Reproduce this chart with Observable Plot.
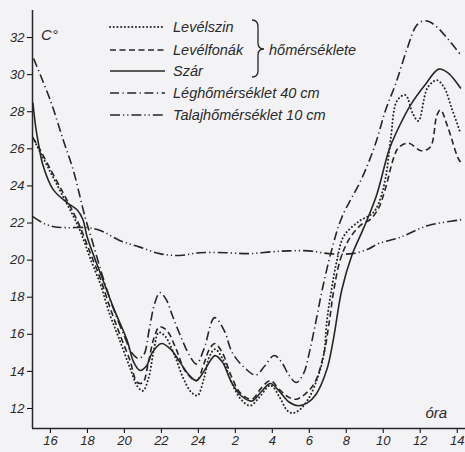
<!DOCTYPE html>
<html>
<head>
<meta charset="utf-8">
<script src="https://cdn.jsdelivr.net/npm/d3@7"></script>
<script src="https://cdn.jsdelivr.net/npm/@observablehq/plot@0.6"></script>
<style>
  html, body { margin: 0; padding: 0; background: #f3f2f5; }
  #chart svg { display: block; background: #f3f2f5; }
  #chart svg text { font-family: "Liberation Sans", "DejaVu Sans", sans-serif; font-style: italic; fill: #2a2a2a; }
</style>
</head>
<body>
<div id="chart"></div>
<script>
// hours: 15..24 evening, >24 = next day (26 = 2 óra)
const xTicks = [16, 18, 20, 22, 24, 26, 28, 30, 32, 34, 36, 38];
const xTickLabels = ["16", "18", "20", "22", "24", "2", "4", "6", "8", "10", "12", "14"];
const yTicks = [12, 14, 16, 18, 20, 22, 24, 26, 28, 30, 32];

const seriesNames = ["Levélszin", "Levélfonák", "Szár", "Léghőmérséklet 40 cm", "Talajhőmérséklet 10 cm"];

const levelszinT = [15.05,15.3,16.0,16.7,17.25,17.6,18.15,18.7,19.2,19.75,20.3,20.7,21.0,21.3,21.6,21.85,22.2,22.7,23.2,23.6,23.95,24.3,24.6,24.9,25.3,25.8,26.3,26.8,27.3,27.9,28.4,28.8,29.1,29.5,30.0,30.5,30.8,30.95,31.2,31.5,31.87,32.7,33.4,33.75,34.13,34.4,34.75,35.2,35.6,35.9,36.4,36.9,37.3,37.7,38.16];
const levelszinV = [26.6,26.1,24.75,23.4,22.35,21.6,20.1,18.7,17.1,15.67,14.2,13.2,12.95,13.6,15.2,16.1,15.9,14.9,13.6,12.9,12.7,13.6,14.8,15.2,14.7,13.4,12.5,12.15,12.6,13.25,12.6,11.9,11.75,11.95,12.6,13.8,15.0,16.7,18.4,20.0,21.3,22.1,22.5,23.05,24.45,26.5,28.6,28.9,27.9,27.5,29.3,29.7,29.3,28.2,26.9];

const levelfonakT = [15.05,15.3,16.0,16.7,17.25,17.6,18.15,18.7,19.2,19.75,20.3,20.7,21.0,21.3,21.6,21.9,22.3,22.8,23.3,23.9,24.3,24.6,24.9,25.3,25.8,26.3,26.9,27.4,27.9,28.4,28.9,29.3,29.8,30.3,30.8,31.1,31.33,31.7,32.2,32.8,33.3,33.75,34.13,34.56,34.83,35.37,36.06,36.55,36.9,37.1,37.5,38.05,38.25];
const levelfonakV = [26.6,26.2,24.9,23.6,22.55,21.8,20.4,19.0,17.5,16.0,14.6,13.4,13.4,14.5,15.8,16.4,16.2,15.2,14.0,13.5,14.4,15.2,15.5,15.0,13.7,12.8,12.5,13.1,13.5,13.0,12.6,12.5,12.8,13.4,15.0,16.8,18.4,20.1,21.2,21.9,22.2,22.8,23.9,25.5,26.07,26.3,25.9,26.1,27.8,28.1,27.15,25.5,25.2];

const szarT = [15.05,15.2,15.35,15.6,16.15,16.9,17.45,17.75,18.0,18.7,19.4,20.15,20.5,20.85,21.2,21.5,22.0,22.5,23.0,23.5,23.9,24.3,24.9,25.3,25.8,26.3,26.9,27.4,27.9,28.4,28.9,29.4,29.9,30.36,30.95,31.3,31.76,32.3,32.95,33.64,34.3,34.67,35.5,36.3,37.0,37.5,38.2];
const szarV = [28.5,27.2,26.3,25.1,23.8,23.1,22.7,22.2,21.2,19.3,17.45,15.67,14.5,14.05,14.3,15.0,15.5,15.2,14.5,13.8,13.5,14.0,14.85,14.5,13.4,12.7,12.4,12.9,13.35,12.9,12.35,12.15,12.3,12.75,14.1,15.7,18.4,20.25,21.75,23.5,25.9,26.8,28.4,29.5,30.3,30.1,29.25];

const levegoT = [15.09,16.0,16.7,17.24,17.88,18.3,18.8,19.4,20.0,20.4,20.75,21.05,21.35,21.65,21.92,22.25,22.6,23.0,23.5,23.9,24.3,24.88,25.4,25.84,26.5,27.1,27.6,28.1,28.5,28.9,29.3,29.7,30.0,30.36,30.7,31.2,31.76,32.84,33.59,34.13,34.67,35.26,35.8,36.17,36.5,36.98,37.6,38.16];
const levegoV = [30.87,28.6,26.45,24.83,22.3,20.9,19.2,17.4,15.9,15.0,14.7,14.9,16.3,17.7,18.25,17.9,17.0,16.0,14.9,14.4,15.2,16.9,16.2,15.0,14.2,13.8,14.3,14.86,14.5,13.8,13.4,13.9,15.0,16.7,18.4,20.5,22.3,24.4,26.3,28.1,29.5,31.3,32.65,32.9,32.85,32.5,31.8,31.1];

const talajT = [15.05,15.7,16.2,16.9,18.0,18.7,19.77,20.84,21.9,23.0,24.07,25.5,26.76,28.0,28.9,29.99,31.06,32.3,33.2,33.75,34.83,36.44,38.05,38.3];
const talajV = [22.35,21.95,21.8,21.75,21.75,21.6,21.05,20.7,20.35,20.25,20.4,20.4,20.35,20.45,20.5,20.5,20.35,20.35,20.6,20.9,21.2,21.87,22.15,22.2];

const dashes = ["0.1,3.6", "6,3.5", null, "9,3.5,1.2,3.5", "10,3,1.2,3,1.2,3"];
const rows = (ts, vs, s) => ts.map((t, i) => ({t, v: vs[i], s}));
const data = [
  rows(levelszinT, levelszinV, 0),
  rows(levelfonakT, levelfonakV, 1),
  rows(szarT, szarV, 2),
  rows(levegoT, levegoV, 3),
  rows(talajT, talajV, 4)
];

const X0 = 15.03, X1 = 38.45, Y0 = 10.92, Y1 = 33.46;
const ink = "#262626";

const lineMarks = data.map((d, i) => Plot.line(d, {
  x: "t", y: "v", curve: "catmull-rom", stroke: ink,
  strokeWidth: i === 0 ? 2 : 1.6,
  strokeDasharray: dashes[i],
  strokeLinecap: i === 0 ? "round" : "butt"
}));

const chart = Plot.plot({
  width: 465, height: 452,
  marginLeft: 32, marginRight: 0, marginTop: 10, marginBottom: 24,
  style: {background: "#f3f2f5", fontSize: "13px"},
  x: {domain: [X0, X1], ticks: xTicks, tickFormat: d => xTickLabels[xTicks.indexOf(d)], tickSize: 5, tickPadding: 2, label: null},
  y: {domain: [Y0, Y1], ticks: yTicks, tickSize: 5, tickPadding: 3, label: null},
  marks: [
    Plot.ruleX([X0], {stroke: ink, strokeWidth: 1.5}),
    Plot.ruleY([Y0], {stroke: ink, strokeWidth: 1.5}),
    ...lineMarks,
    Plot.text(["C°"], {x: 15.95, y: 32.15, fontSize: 15, fill: ink}),
    Plot.text(["óra"], {x: 36.87, y: 11.75, fontSize: 15, fill: ink})
  ]
});
document.getElementById("chart").append(chart);

// legend
const svg = d3.select(chart);
const lg = svg.append("g").attr("text-anchor", "start");
const rowY = [27, 50, 71, 93, 115];
seriesNames.forEach((name, i) => {
  lg.append("line").attr("x1", 110).attr("x2", 165).attr("y1", rowY[i]).attr("y2", rowY[i])
    .attr("stroke", ink).attr("stroke-width", i === 0 ? 2 : 1.6)
    .attr("stroke-dasharray", dashes[i]).attr("stroke-linecap", i === 0 ? "round" : "butt");
  lg.append("text").attr("x", 173).attr("y", rowY[i]).attr("dy", "0.35em")
    .attr("text-anchor", "start").attr("font-size", 14.5).text(name);
});
lg.append("path")
  .attr("d", "M252,20 Q258,20 258,27 L258,43 Q258,49 264,49 Q258,49 258,55 L258,71 Q258,77 252,77")
  .attr("fill", "none").attr("stroke", ink).attr("stroke-width", 1.3);
lg.append("text").attr("x", 269).attr("y", 50).attr("dy", "0.35em")
  .attr("text-anchor", "start").attr("font-size", 14.5).text("hőmérséklete");
</script>
</body>
</html>
